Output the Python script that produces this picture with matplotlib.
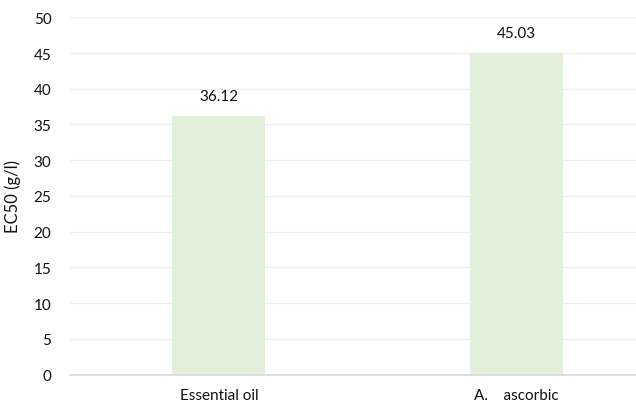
import matplotlib
matplotlib.use("Agg")
import matplotlib.pyplot as plt

categories = ["Essential oil", "A.    ascorbic"]
values = [36.12, 45.03]
labels = ["36.12", "45.03"]
yticks = [0, 5, 10, 15, 20, 25, 30, 35, 40, 45, 50]

plt.rcParams['font.family'] = ['Lato', 'DejaVu Sans']

W, H = 636, 410
fig = plt.figure(figsize=(W / 100, H / 100), dpi=100)
left, right = 69.5, 636
top, bottom = 18.3, 375.5
ax = fig.add_axes([left / W, 1 - bottom / H, (right - left) / W, (bottom - top) / H])

x = list(range(len(categories)))
bars = ax.bar(x, values, width=0.312, color="#e2efda", zorder=2)
for xi, v, lab in zip(x, values, labels):
    ax.annotate(lab, (xi, v), xytext=(0, 9.5), textcoords="offset points",
                ha="center", va="bottom", fontsize=11, color="#111111")

ax.set_xlim(-149.5 / 298, (636 - 218.5) / 298)
ax.set_ylim(0, 50)
ax.set_yticks(yticks)
ax.set_xticks(x)
ax.set_xticklabels(categories)
ax.tick_params(axis="both", length=0, labelsize=11, colors="#111111")
ax.tick_params(axis="y", pad=13)
ax.tick_params(axis="x", pad=9.5)
ax.grid(axis="y", color="#eeeeee", linewidth=0.9, zorder=0)
ax.set_axisbelow(True)
for s in ["top", "right", "left"]:
    ax.spines[s].set_visible(False)
ax.spines["bottom"].set_color("#d9d9d9")
ax.spines["bottom"].set_linewidth(1.2)
ax.spines["bottom"].set_zorder(3)
ax.set_ylabel("EC50 (g/l)", fontsize=12, color="#111111", labelpad=9)

fig.savefig("out.png", dpi=100)
